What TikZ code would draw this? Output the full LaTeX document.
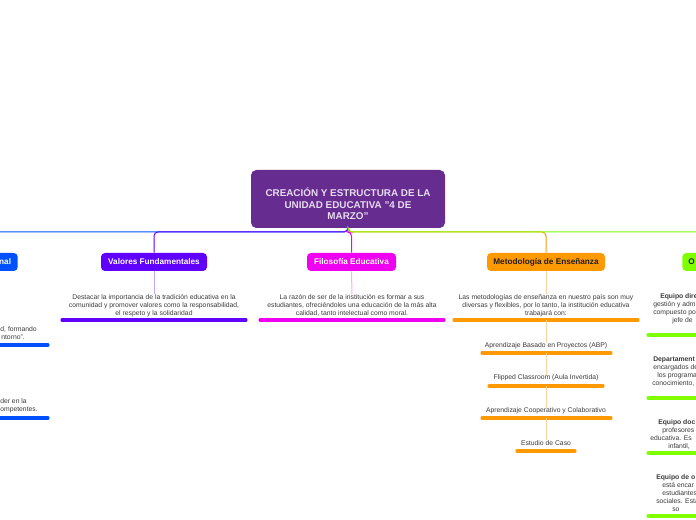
\documentclass[tikz,border=0pt]{standalone}
\usepackage{fontspec}
\setmainfont{Liberation Sans}
\usetikzlibrary{calc}
\definecolor{cpurple}{HTML}{672C90}
\definecolor{ctitle}{HTML}{E6DCEF}
\definecolor{cblue}{HTML}{0050FF}
\definecolor{cviolet}{HTML}{6000FF}
\definecolor{cvioletl}{HTML}{C6A8FF}
\definecolor{cmag}{HTML}{F000F0}
\definecolor{cmagl}{HTML}{F8AEF8}
\definecolor{corange}{HTML}{FF9900}
\definecolor{corangel}{HTML}{FFD49A}
\definecolor{cgreen}{HTML}{80FF00}
\definecolor{ctext}{HTML}{3A3A3A}
\definecolor{cdark}{HTML}{1E1E1E}
\begin{document}
\begin{tikzpicture}[x=0.75pt,y=-0.75pt,
  titlebox/.style={fill=cpurple, rounded corners=4pt, minimum width=145.5pt, minimum height=43.5pt, inner sep=0pt, text=ctitle, align=center, font=\fontsize{7.4}{8.4}\selectfont\bfseries},
  mainbox/.style={rounded corners=3pt, inner sep=0pt, minimum height=13.5pt, text=white, font=\fontsize{6.15}{7}\selectfont\bfseries},
  body/.style={inner sep=0pt, text=ctext, align=center, font=\fontsize{5.1}{6}\selectfont},
  link/.style={line width=0.75pt, rounded corners=3pt},
  sublink/.style={line width=0.75pt},
  ul/.style={line width=2.3pt, line cap=round},
]
\useasboundingbox (0,0) rectangle (696,520);
\clip (0,0) rectangle (696,520);

\node[titlebox] (root) at (348,199) {\rule{0pt}{13.8pt}CREACIÓN Y ESTRUCTURA DE LA\\UNIDAD EDUCATIVA "4 DE\\MARZO"};

\node[mainbox, fill=cblue, anchor=east, inner xsep=5pt] (b1) at (18,262) {\makebox[60pt][r]{nal}};
\node[mainbox, fill=cviolet, minimum width=79.5pt] (b2) at (154,262) {Valores Fundamentales};
\node[mainbox, fill=cmag, minimum width=66.75pt] (b3) at (351.5,262) {Filosofía Educativa};
\node[mainbox, fill=corange, text=cdark, minimum width=88.5pt] (b4) at (546,262) {Metodología de Enseñanza};
\node[mainbox, fill=cgreen, text=cdark, anchor=west, inner xsep=4.5pt] (b5) at (682,262) {\makebox[60pt][l]{O}};

\coordinate (hub) at (348,232);
\draw[link, cblue] (root.south) -- (hub) -| (b1.north);
\draw[link, cviolet] (root.south) -- (hub) -| (b2.north);
\draw[link, cmag] (root.south) -- (hub) -| (b3.north);
\draw[link, corange] (root.south) -- (hub) -| (b4.north);
\draw[link, cgreen] (root.south) -- (hub) -| (b5.north);

% Valores
\node[body, anchor=north] (t2) at (154,294.5) {Destacar la importancia de la tradición educativa en la\\comunidad y promover valores como la responsabilidad,\\el respeto y la solidaridad};
\draw[sublink, cvioletl] (b2.south) -- (t2.north);
\draw[ul, cviolet] (62,320) -- (246,320);

% Filosofia
\node[body, anchor=north] (t3) at (352,294.5) {La razón de ser de la institución es formar a sus\\estudiantes, ofreciéndoles una educación de la más alta\\calidad, tanto intelectual como moral.};
\draw[sublink, cmagl] (b3.south) -- (t3.north);
\draw[ul, cmag] (260,320) -- (444,320);

% Metodologia
\node[body, anchor=north] (t4) at (546,294.5) {Las metodologías de enseñanza en nuestro país son muy\\diversas y flexibles, por lo tanto, la institución educativa\\trabajará con:};
\draw[sublink, corangel] (b4.south) -- (t4.north);
\draw[ul, corange] (454,320) -- (638,320);
\coordinate (u4) at (546,320);

\node[body] (s1) at (546,346) {Aprendizaje Basado en Proyectos (ABP)};
\draw[ul, corange] (482,353) -- (611,353);
\coordinate (u5) at (546,353);
\node[body] (s2) at (546,378) {Flipped Classroom (Aula Invertida)};
\draw[ul, corange] (489,386) -- (603,386);
\coordinate (u6) at (546,386);
\node[body] (s3) at (546,411) {Aprendizaje Cooperativo y Colaborativo};
\draw[ul, corange] (482,418) -- (611,418);
\coordinate (u7) at (546,418);
\node[body] (s4) at (546,443) {Estudio de Caso};
\draw[ul, corange] (517,451) -- (575,451);
\draw[sublink, corangel] (u4) -- (s1.north);
\draw[sublink, corangel] (u5) -- (s2.north);
\draw[sublink, corangel] (u6) -- (s3.north);
\draw[sublink, corangel] (u7) -- (s4.north);

% left fragments
\node[body, align=right, anchor=north east] (l1) at (37,326.5) {d, formando\\ntorno".\hspace*{9pt}};
\draw[ul, cblue] (-10,345) -- (48,345);
\node[body, align=right, anchor=north east] (l2) at (38,398.5) {der en la\hspace*{8.25pt}\\competentes.};
\draw[ul, cblue] (-10,418) -- (48,418);

% right fragments
\node[body, align=left, anchor=north west] (r1) at (650,293.5) {\hspace*{7.5pt}\textbf{Equipo dire}\\\hspace*{2.25pt}gestión y adm\\\hspace*{2.25pt}compuesto po\\\hspace*{16.5pt}jefe de};
\draw[ul, cgreen] (648,335) -- (710,335);
\node[body, align=left, anchor=north west] (r2) at (650,356.5) {\hspace*{2.25pt}\textbf{Departament}\\\hspace*{2.25pt}encargados de\\\hspace*{5.25pt}los programa\\\hspace*{1.5pt}conocimiento,};
\draw[ul, cgreen] (648,398) -- (710,398);
\node[body, align=left, anchor=north west] (r3) at (650,419.5) {\hspace*{6pt}\textbf{Equipo doc}\\\hspace*{9pt}profesores\\educativa. Es\\\hspace*{13.5pt}infantil,};
\draw[ul, cgreen] (648,453) -- (710,453);
\node[body, align=left, anchor=north west] (r4) at (650,474.5) {\hspace*{4.5pt}\textbf{Equipo de o}\\\hspace*{9pt}está encar\\\hspace*{9pt}estudiantes\\\hspace*{4.5pt}sociales. Está\\\hspace*{16.5pt}so};
\draw[ul, cgreen] (648,516) -- (710,516);
\end{tikzpicture}
\end{document}
